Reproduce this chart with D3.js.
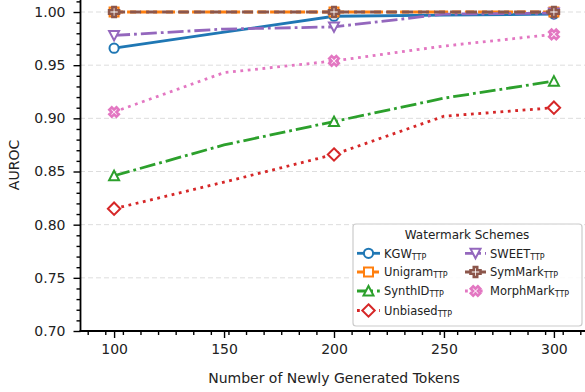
<!DOCTYPE html>
<html>
<head>
<meta charset="utf-8">
<script src="https://cdn.jsdelivr.net/npm/d3@7"></script>
<style>
  html, body { margin: 0; padding: 0; background: #fff; }
  svg { display: block; font-family: "DejaVu Sans", sans-serif; }
</style>
</head>
<body>
<svg id="chart" width="585" height="392"></svg>
<script>
// ---- data ----
const tokens = [100, 150, 200, 250, 300];
const markerTokens = [100, 200, 300];
const xTickValues = [100, 150, 200, 250, 300];
const yTickValues = [0.70, 0.75, 0.80, 0.85, 0.90, 0.95, 1.00];

const kgw       = [0.966, 0.981, 0.996, 0.997, 0.998];
const unigram   = [1.000, 1.000, 1.000, 1.000, 1.000];
const synthid   = [0.846, 0.875, 0.897, 0.919, 0.935];
const unbiased  = [0.815, 0.840, 0.866, 0.902, 0.910];
const sweet     = [0.978, 0.984, 0.986, 0.998, 0.999];
const symmark   = [1.000, 1.000, 1.000, 1.000, 1.000];
const morphmark = [0.906, 0.943, 0.954, 0.968, 0.979];

const seriesNames = ["KGW", "Unigram", "SynthID", "Unbiased", "SWEET", "SymMark", "MorphMark"];
const seriesValues = [kgw, unigram, synthid, unbiased, sweet, symmark, morphmark];
const seriesColors = ["#1f77b4", "#ff7f0e", "#2ca02c", "#d62728", "#9467bd", "#8c564b", "#e377c2"];
const seriesDash = ["", "9,4", "16,4,2.8,4", "2.8,4.6", "16,4,2.8,4", "11,5", "2.8,4.6"];
const seriesMarker = ["circle", "square", "triangle", "diamond", "triangleDown", "plus", "cross"];

// ---- layout ----
const svg = d3.select("#chart");
const x = d3.scaleLinear().domain([84.5, 315.5]).range([80, 588]);
const y = d3.scaleLinear().domain([0.70, 1.0113]).range([331, 0]);

// grid
svg.append("g").selectAll("line").data(yTickValues).join("line")
  .attr("x1", 80).attr("x2", 585)
  .attr("y1", d => y(d)).attr("y2", d => y(d))
  .attr("stroke", "#dddddd").attr("stroke-width", 1)
  .attr("stroke-dasharray", "5,3");

// markers
function markerPath(type) {
  switch (type) {
    case "square": return "M-4.5,-4.5H4.5V4.5H-4.5Z";
    case "triangle": return "M0,-5L5,4.5L-5,4.5Z";
    case "triangleDown": return "M0,5L5,-4.5L-5,-4.5Z";
    case "diamond": return "M0,-6.2L6.2,0L0,6.2L-6.2,0Z";
    case "plus": {
      const a = 5, b = 1.7;
      return `M${-b},${-a}H${b}V${-b}H${a}V${b}H${b}V${a}H${-b}V${b}H${-a}V${-b}H${-b}Z`;
    }
    case "cross": {
      const a = 5, b = 1.7;
      const pts = [[-b,-a],[b,-a],[b,-b],[a,-b],[a,b],[b,b],[b,a],[-b,a],[-b,b],[-a,b],[-a,-b],[-b,-b]];
      const c = Math.SQRT1_2;
      return "M" + pts.map(([px, py]) => [(px - py) * c, (px + py) * c].map(v => v.toFixed(2)).join(",")).join("L") + "Z";
    }
  }
  return null;
}
function drawMarker(g, type, color, cx, cy) {
  if (type === "circle") {
    g.append("circle").attr("cx", cx).attr("cy", cy).attr("r", 4.6)
      .attr("fill", "#fff").attr("stroke", color).attr("stroke-width", 2);
  } else {
    const sw = (type === "plus" || type === "cross") ? 2.6 : 2;
    g.append("path").attr("d", markerPath(type))
      .attr("transform", `translate(${cx},${cy})`)
      .attr("fill", "#fff").attr("stroke", color).attr("stroke-width", sw)
      .attr("stroke-linejoin", "miter");
  }
}

const line = d3.line().x(d => x(d[0])).y(d => y(d[1]));
const plot = svg.append("g");
seriesNames.forEach((name, i) => {
  const g = plot.append("g");
  const pts = tokens.map((t, j) => [t, seriesValues[i][j]]);
  g.append("path").datum(pts).attr("d", line)
    .attr("fill", "none").attr("stroke", seriesColors[i]).attr("stroke-width", 2.8)
    .attr("stroke-dasharray", seriesDash[i] || null)
    .attr("stroke-linecap", "butt");
  pts.filter(p => markerTokens.includes(p[0])).forEach(p => {
    drawMarker(g, seriesMarker[i], seriesColors[i], x(p[0]), y(p[1]));
  });
});

// axes
const xMinor = d3.range(88, 316, 8).filter(v => !xTickValues.includes(v));
const yMinor = d3.range(70, 102).map(v => v / 100).filter(v => !yTickValues.some(t => Math.abs(t - v) < 1e-9));

const xAxis = svg.append("g").attr("transform", "translate(0,331)");
xAxis.append("g").call(d3.axisBottom(x).tickValues(xMinor).tickSize(4).tickFormat(""))
  .call(g => g.select(".domain").remove());
xAxis.append("g").call(d3.axisBottom(x).tickValues(xTickValues).tickSize(7).tickPadding(6).tickFormat(d3.format("d")))
  .call(g => g.select(".domain").remove());
xAxis.selectAll(".tick line").attr("stroke", "#000").attr("stroke-width", 1.4);
xAxis.selectAll(".tick text").attr("font-size", 14).attr("fill", "#222").attr("font-family", "DejaVu Sans");
xAxis.append("line").attr("x1", 79.5).attr("x2", 585).attr("y1", 0).attr("y2", 0)
  .attr("stroke", "#000").attr("stroke-width", 1.8);

const yAxis = svg.append("g").attr("transform", "translate(80.5,0)");
yAxis.append("g").call(d3.axisLeft(y).tickValues(yMinor).tickSize(4).tickFormat(""))
  .call(g => g.select(".domain").remove());
yAxis.append("g").call(d3.axisLeft(y).tickValues(yTickValues).tickSize(7).tickPadding(8).tickFormat(d3.format(".2f")))
  .call(g => g.select(".domain").remove());
yAxis.selectAll(".tick line").attr("stroke", "#000").attr("stroke-width", 1.4);
yAxis.selectAll(".tick text").attr("font-size", 14).attr("fill", "#222").attr("font-family", "DejaVu Sans");
yAxis.append("line").attr("x1", 0).attr("x2", 0).attr("y1", 0).attr("y2", 332)
  .attr("stroke", "#000").attr("stroke-width", 1.8);

// axis labels
svg.append("text").attr("x", 334).attr("y", 383).attr("text-anchor", "middle")
  .attr("font-size", 14).attr("fill", "#222").text("Number of Newly Generated Tokens");
svg.append("text").attr("transform", "translate(19,165) rotate(-90)").attr("text-anchor", "middle")
  .attr("font-size", 14).attr("fill", "#222").text("AUROC");

// legend
const leg = svg.append("g");
leg.append("rect").attr("x", 353).attr("y", 224).attr("width", 229).attr("height", 102)
  .attr("rx", 3).attr("fill", "#fff").attr("fill-opacity", 0.85)
  .attr("stroke", "#cccccc").attr("stroke-width", 1.2);
leg.append("text").attr("x", 467).attr("y", 238.5).attr("text-anchor", "middle")
  .attr("font-size", 12).attr("fill", "#222").text("Watermark Schemes");
const rowsY = [253.3, 272, 291, 310.5];
seriesNames.forEach((name, i) => {
  const col = i < 4 ? 0 : 1;
  const row = i < 4 ? i : i - 4;
  const cy = rowsY[row];
  const x0 = col === 0 ? 357 : 465;
  const x1 = col === 0 ? 380 : 486;
  const mx = (x0 + x1) / 2;
  const tx = col === 0 ? 384 : 490;
  const g = leg.append("g");
  g.append("line").attr("x1", x0).attr("x2", x1).attr("y1", cy).attr("y2", cy)
    .attr("stroke", seriesColors[i]).attr("stroke-width", 2.8)
    .attr("stroke-dasharray", seriesDash[i] || null);
  drawMarker(g, seriesMarker[i], seriesColors[i], mx, cy);
  const t = g.append("text").attr("x", tx).attr("y", cy + 4.2)
    .attr("font-size", 11.5).attr("fill", "#222");
  t.append("tspan").text(name);
  t.append("tspan").attr("font-size", 8).attr("dy", 2).text("TTP");
});
</script>
</body>
</html>
